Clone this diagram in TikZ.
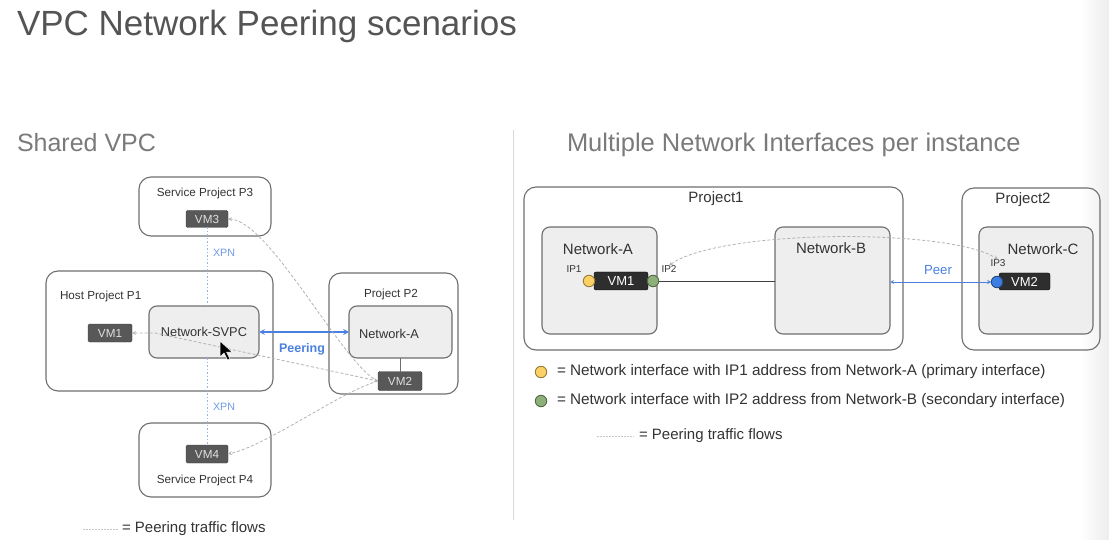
\documentclass[tikz,border=0pt]{standalone}
\usepackage{fontspec}
\setmainfont{Liberation Sans}
\usepackage{xcolor}
\usetikzlibrary{shapes,arrows,positioning}

\definecolor{titlegray}{HTML}{545454}
\definecolor{headgray}{HTML}{7A7A7A}
\definecolor{boxgray}{HTML}{6E6E6E}
\definecolor{netfill}{HTML}{EEEEEE}
\definecolor{vmdark}{HTML}{585858}
\definecolor{vmblack}{HTML}{2E2E2E}
\definecolor{peerblue}{HTML}{4A80E0}
\definecolor{nicyellow}{HTML}{FBD166}
\definecolor{nicgreen}{HTML}{8DB07A}
\definecolor{nicblue}{HTML}{3D7CE0}

\tikzstyle{project} = [draw=boxgray, line width=1.1pt, rounded corners=12pt]
\tikzstyle{network} = [draw=boxgray, fill=netfill, line width=1.1pt, rounded corners=8pt]
\tikzstyle{vmleft} = [fill=vmdark, draw=vmdark!70!black, rounded corners=1.5pt, text=white!88!black, font=\fontsize{11.7}{12}\selectfont]
\tikzstyle{vmright} = [fill=vmblack, draw=black, rounded corners=2pt, text=white, font=\fontsize{13}{13}\selectfont]
\tikzstyle{boxtext} = [text=black!80, font=\fontsize{11.7}{12}\selectfont]
\tikzstyle{bigtext} = [text=black!80, font=\fontsize{15}{15}\selectfont]
\tikzstyle{keytext} = [text=black!80, font=\fontsize{15.3}{15}\selectfont]
\tikzstyle{iptext} = [text=black!80, font=\fontsize{10}{10}\selectfont]
\tikzstyle{nic} = [circle, minimum size=11.5pt, line width=0.9pt]
\tikzstyle{flow} = [gray!60, line width=0.8pt, dash pattern=on 3pt off 2pt, >=stealth]
\tikzstyle{flowkey} = [gray!45, line width=0.7pt, dash pattern=on 1.5pt off 1.5pt]
\tikzstyle{xpn} = [peerblue!60, line width=0.9pt, dash pattern=on 1.5pt off 2pt]
\tikzstyle{peer} = [peerblue, line width=1.6pt, <->, >=stealth]

\begin{document}
\begin{tikzpicture}[x=1pt, y=-1pt, inner sep=0pt, outer sep=0pt, >=stealth]
    \useasboundingbox (0,0) rectangle (1109,540);
    \fill[left color=white, right color=black!7] (1080,0) rectangle (1109,540);

    % 标题
    \node[anchor=base west, text=titlegray, font=\fontsize{35}{35}\selectfont] (title) at (17,36) {VPC Network Peering scenarios};
    \node[anchor=base west, text=headgray, font=\fontsize{25}{25}\selectfont] (headl) at (17,152) {Shared VPC};
    \node[anchor=base west, text=headgray, font=\fontsize{25.5}{25}\selectfont] (headr) at (567,152) {Multiple Network Interfaces per instance};
    \draw[black!15, line width=0.8pt] (513,130) -- (513,520);

    % 左图: 项目框
    \node[project, minimum width=132, minimum height=59] (p3) at (205,206.5) {};
    \node[boxtext] (p3t) at (205,193) {Service Project P3};
    \node[vmleft, minimum width=42, minimum height=17] (vm3) at (207,219) {VM3};

    \node[project, minimum width=227, minimum height=120] (p1) at (159.5,331) {};
    \node[boxtext, anchor=west] (p1t) at (60,296) {Host Project P1};
    \node[network, minimum width=110, minimum height=52, font=\fontsize{12.8}{13}\selectfont, text=black!80] (svpc) at (204,332) {Network-SVPC};
    \node[vmleft, minimum width=44, minimum height=18] (vm1) at (110,333) {VM1};

    \node[project, minimum width=129, minimum height=121] (p2) at (393.5,333.5) {};
    \node[boxtext] (p2t) at (391,294) {Project P2};
    \node[network, minimum width=103, minimum height=52] (neta) at (400.5,332) {};
    \node[text=black!80, font=\fontsize{12.8}{13}\selectfont] (netat) at (389,334) {Network-A};
    \node[vmleft, minimum width=44, minimum height=19] (vm2) at (400,381) {VM2};

    \node[project, minimum width=132, minimum height=74] (p4) at (205,460) {};
    \node[vmleft, minimum width=42, minimum height=18] (vm4) at (207,454) {VM4};
    \node[boxtext] (p4t) at (205,480) {Service Project P4};

    % 左图: 连线
    \draw[xpn] (vm3.south) -- (vm3.south |- svpc.north);
    \draw[xpn] (vm4.north |- svpc.south) -- (vm4.north);
    \node[text=peerblue!80, font=\fontsize{10.7}{11}\selectfont] (xpn1) at (224,253) {XPN};
    \node[text=peerblue!80, font=\fontsize{10.7}{11}\selectfont] (xpn2) at (224,407) {XPN};
    \draw[peer] (svpc.east) -- (neta.west);
    \node[text=peerblue, font=\bfseries\fontsize{12.5}{13}\selectfont] (peering) at (302,349) {Peering};
    \draw[boxgray, line width=1pt] (vm2.north |- neta.south) -- (vm2.north);

    % 左图: 流量
    \draw[flow, <->] (vm1.east) -- (155,333) -- (vm2.west);
    \draw[flow, ->] (vm2.west) .. controls (345,368) and (270,221) .. (vm3.east);
    \draw[flow, ->] (vm2.west) .. controls (340,392) and (268,445) .. (vm4.east);
    \fill[black, draw=white, line width=0.5pt] (220,341) -- (220,357) -- (224,353) -- (227.5,360) -- (230,359) -- (226.5,352) -- (232,352) -- cycle;

    \coordinate (lf1) at (83,529);
    \coordinate (lf2) at (118,529);
    \draw[flowkey] (lf1) -- (lf2);
    \node[anchor=west, bigtext] (legl) at (122,529) {= Peering traffic flows};

    % 右图: 项目与网络
    \node[project, minimum width=379, minimum height=163] (proj1) at (713.5,268.5) {};
    \node[bigtext] (proj1t) at (716,199) {Project1};
    \node[network, minimum width=115, minimum height=107] (netA) at (599.5,280.5) {};
    \node[bigtext] (netAt) at (598,249) {Network-A};
    \node[vmright, minimum width=54, minimum height=18] (vmA) at (621,281) {VM1};
    \node[nic, fill=nicyellow, draw=nicyellow!60!black] (ip1) at (589,281) {};
    \node[nic, fill=nicgreen, draw=nicgreen!60!black] (ip2) at (653,281) {};
    \node[iptext] (ip1t) at (574,269) {IP1};
    \node[iptext] (ip2t) at (669,269) {IP2};

    \node[network, minimum width=115, minimum height=107] (netB) at (832.5,280.5) {};
    \node[bigtext] (netBt) at (831,248) {Network-B};

    \node[project, minimum width=138, minimum height=162] (proj2) at (1031,269) {};
    \node[bigtext] (proj2t) at (1023,200) {Project2};
    \node[network, minimum width=114, minimum height=107] (netC) at (1036,280.5) {};
    \node[bigtext] (netCt) at (1043,249) {Network-C};
    \node[vmright, minimum width=51, minimum height=17, text depth=0pt] (vmC) at (1024.5,281.5) {VM2};
    \node[nic, fill=nicblue, draw=nicblue!60!black] (ip3) at (997,282) {};
    \node[iptext] (ip3t) at (998,263) {IP3};

    % 右图: 连线
    \draw[black!75, line width=0.8pt] (ip2.east) -- (ip2.east -| netB.west);
    \draw[peerblue, line width=0.8pt, <->] (netB.east |- ip3) -- (ip3.west);
    \node[text=peerblue, font=\fontsize{13.2}{13}\selectfont] (peert) at (938,270) {Peer};
    \draw[flow, <->] (ip2t.north) .. controls (720,229) and (950,228) .. (ip3t.north);

    % 右图: 图例
    \node[nic, fill=nicyellow, draw=nicyellow!60!black] (key1) at (541,372) {};
    \node[anchor=west, keytext] (key1t) at (557,372) {= Network interface with IP1 address from Network-A (primary interface)};
    \node[nic, fill=nicgreen, draw=nicgreen!60!black] (key2) at (541,401) {};
    \node[anchor=west, keytext] (key2t) at (557,401) {= Network interface with IP2 address from Network-B (secondary interface)};
    \coordinate (rf1) at (597,436);
    \coordinate (rf2) at (634,436);
    \draw[flowkey] (rf1) -- (rf2);
    \node[anchor=west, bigtext] (legr) at (639,436) {= Peering traffic flows};
\end{tikzpicture}
\end{document}
